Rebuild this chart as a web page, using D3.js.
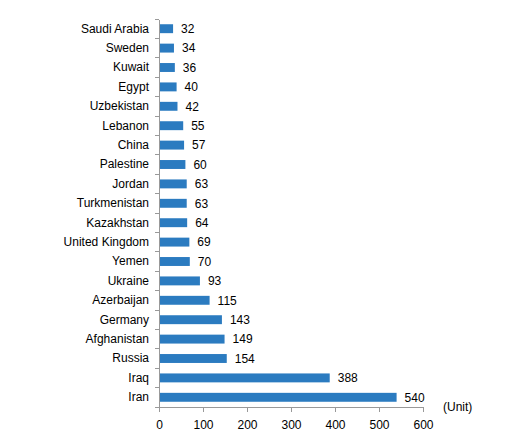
<!DOCTYPE html>
<html>
<head>
<meta charset="utf-8">
<script src="https://cdn.jsdelivr.net/npm/d3@7"></script>
<style>
  body { margin: 0; background: #fff; }
  text { font-family: "Liberation Sans", Arial, sans-serif; }
</style>
</head>
<body>
<div id="chart"></div>
<script>
// data, top to bottom
const countries = ["Saudi Arabia", "Sweden", "Kuwait", "Egypt", "Uzbekistan", "Lebanon",
  "China", "Palestine", "Jordan", "Turkmenistan", "Kazakhstan", "United Kingdom",
  "Yemen", "Ukraine", "Azerbaijan", "Germany", "Afghanistan", "Russia", "Iraq", "Iran"];
const values = [32, 34, 36, 40, 42, 55, 57, 60, 63, 63, 64, 69, 70, 93, 115, 143, 149, 154, 388, 540];
const xTicks = [0, 100, 200, 300, 400, 500, 600];
const unitLabel = "(Unit)";

const width = 505, height = 446;
const plotLeft = 159, plotRight = 423, plotTop = 19, plotBottom = 407;

const svg = d3.select("#chart").append("svg")
  .attr("width", width)
  .attr("height", height);

const x = d3.scaleLinear().domain([0, 600]).range([plotLeft, plotRight]);
const y = d3.scaleBand().domain(countries).range([plotTop, plotBottom]).paddingInner(0.54).paddingOuter(0.27);

// bars
svg.append("g")
  .selectAll("rect")
  .data(countries)
  .enter()
  .append("rect")
    .attr("x", x(0))
    .attr("y", d => y(d))
    .attr("width", (d, i) => x(values[i]) - x(0))
    .attr("height", y.bandwidth())
    .style("fill", "#2b7bc0");

// value labels
svg.append("g")
  .selectAll("text")
  .data(countries)
  .enter()
  .append("text")
    .attr("x", (d, i) => x(values[i]) + 8)
    .attr("y", d => y(d) + y.bandwidth() / 2)
    .attr("dy", "0.35em")
    .style("font-size", "12px")
    .style("fill", "#000")
    .text((d, i) => values[i]);

// x axis
const xAxis = svg.append("g")
  .attr("transform", "translate(0," + plotBottom + ")")
  .call(d3.axisBottom(x).tickValues(xTicks).tickSize(5).tickSizeOuter(0).tickPadding(8));

// y axis: ticks sit between categories
const yAxis = svg.append("g")
  .attr("transform", "translate(" + plotLeft + ",0)")
  .call(d3.axisLeft(y).tickSize(0).tickPadding(10));

const step = y.step();
yAxis.selectAll(".sep")
  .data(d3.range(countries.length + 1))
  .enter()
  .append("line")
    .attr("class", "sep")
    .attr("x1", -4).attr("x2", 0)
    .attr("y1", i => plotTop + i * step)
    .attr("y2", i => plotTop + i * step);

[xAxis, yAxis].forEach(g => {
  g.selectAll("path, line").style("stroke", "#999").style("shape-rendering", "crispEdges");
  g.selectAll("text").style("font-size", "12px").style("fill", "#000")
    .style("font-family", "'Liberation Sans', Arial, sans-serif");
});

svg.append("text")
  .attr("x", 443)
  .attr("y", 411)
  .style("font-size", "12px")
  .text(unitLabel);
</script>
</body>
</html>
